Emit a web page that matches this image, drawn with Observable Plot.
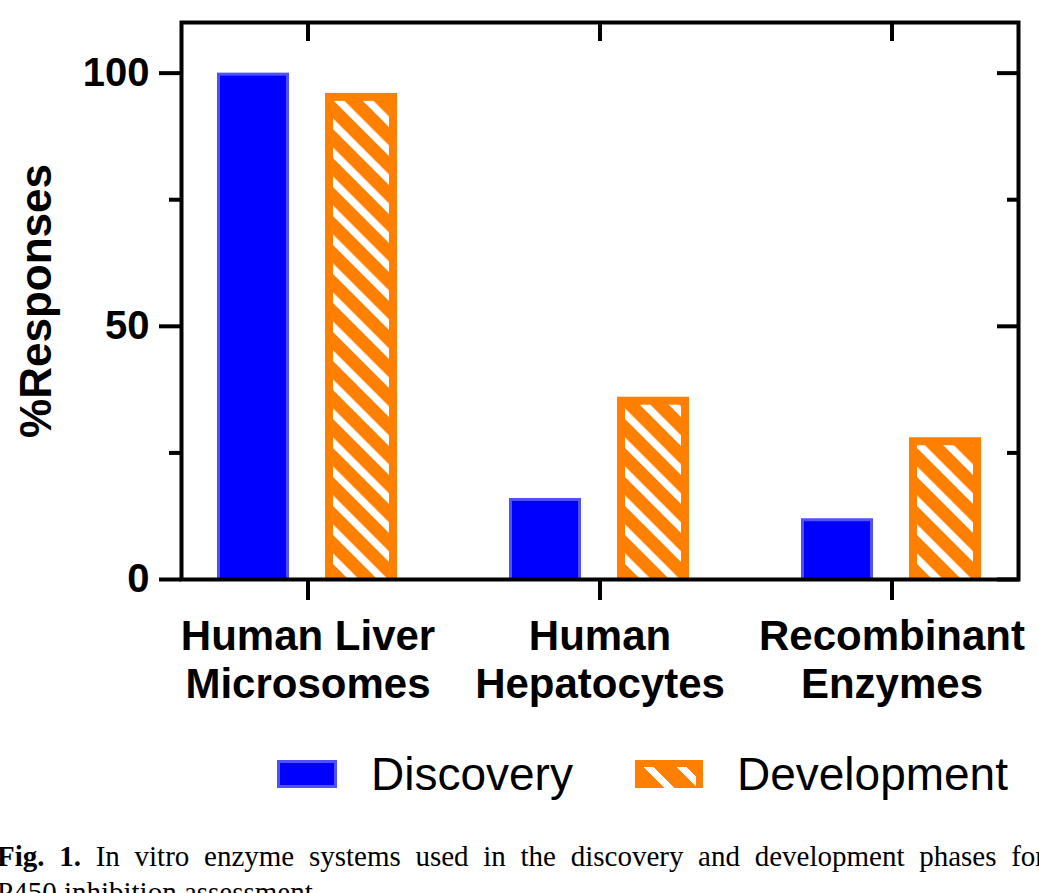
<!DOCTYPE html>
<html>
<head>
<meta charset="utf-8">
<script src="https://cdn.jsdelivr.net/npm/d3@7"></script>
<script src="https://cdn.jsdelivr.net/npm/@observablehq/plot@0.6"></script>
<style>
  html, body { margin: 0; padding: 0; background: #fff; overflow: hidden; }
  #chart svg { display: block; }
  .legend { display: flex; align-items: center; height: 48px; margin-top: 30px; padding-left: 277px;
            font-family: "Liberation Sans", Arial, sans-serif; font-size: 46px; color: #000; }
  .sw { width: 60px; height: 28px; box-sizing: border-box; }
  .sw.blue { background: #0000ff; border: 3px solid #5050ff; }
  .sw.orange { width: 68px; background: #ff8000; position: relative; }
  .sw.orange::after { content: ""; position: absolute; left: 7px; right: 7px; top: 7px; bottom: 0;
            background: repeating-linear-gradient(45deg, #ff8000 0 16px, #fff 16px 23px); }
  .legend .lab { margin-left: 34px; }
  .legend .gap { width: 62px; }
  .caption { position: relative; left: -3px; width: 1048px; margin-top: 40px;
             font-family: "Liberation Serif", "Times New Roman", serif; font-size: 29px; line-height: 36px; color: #000; }
  .caption .l1 { text-align: justify; text-align-last: justify; }
</style>
</head>
<body>
<div id="chart"></div>
<div class="legend">
  <div class="sw blue"></div><span class="lab">Discovery</span>
  <div class="gap"></div>
  <div class="sw orange"></div><span class="lab">Development</span>
</div>
<div class="caption">
  <div class="l1"><b>Fig. 1.</b> In vitro enzyme systems used in the discovery and development phases for</div>
  <div class="l2">P450 inhibition assessment.</div>
</div>
<script>
const categories = ["Human Liver\nMicrosomes", "Human\nHepatocytes", "Recombinant\nEnzymes"];
const seriesNames = ["Discovery", "Development"];
const discovery = [100, 16, 12];
const development = [96, 36, 28];
const majorTicks = [0, 50, 100];
const minorTicks = [25, 75];
const yLabel = "%Responses";

const discData = categories.map((c, i) => ({category: c, series: seriesNames[0], value: discovery[i]}));
const devData = categories.map((c, i) => ({category: c, series: seriesNames[1], value: development[i]}));

const enc = {fx: "category", x: "series", y: "value"};

const chart = Plot.plot({
  width: 1039,
  height: 720,
  marginLeft: 180,
  marginRight: 21,
  marginTop: 22,
  marginBottom: 141,
  style: {fontFamily: "'Liberation Sans', Arial, sans-serif", fontWeight: "bold", color: "#000", background: "#fff"},
  fx: {domain: categories, paddingInner: 0.135, paddingOuter: 0, label: null},
  x: {domain: seriesNames, padding: 0.33, axis: null},
  y: {domain: [0, 110], axis: null},
  marks: [
    // Discovery bars: light blue edge, solid blue body
    Plot.barY(discData, {...enc, fill: "#5050ff"}),
    Plot.barY(discData, {...enc, fill: "#0000ff", insetTop: 3, insetLeft: 3, insetRight: 3}),
    // Development bars: orange with white hatching
    Plot.barY(devData, {...enc, fill: "#ff8000"}),
    Plot.barY(devData, {...enc, fill: "url(#hatch)", insetTop: 8, insetLeft: 8, insetRight: 8}),
    // left axis (outward ticks)
    Plot.axisY({anchor: "left", ticks: majorTicks, tickSize: 22, tickPadding: 10, fontSize: 40, strokeWidth: 4, label: null}),
    Plot.axisY({anchor: "left", ticks: minorTicks, tickSize: 12, tickFormat: () => "", strokeWidth: 4, label: null}),
    Plot.axisY({anchor: "left", ticks: [], label: yLabel, labelAnchor: "center", labelArrow: "none", labelOffset: 162, fontSize: 44}),
    // right axis (inward ticks)
    Plot.axisY({anchor: "right", ticks: majorTicks, tickSize: -22, tickFormat: () => "", strokeWidth: 4, label: null}),
    Plot.axisY({anchor: "right", ticks: minorTicks, tickSize: -12, tickFormat: () => "", strokeWidth: 4, label: null}),
    // category axis bottom (outward) and top (inward)
    Plot.axisFx({anchor: "bottom", tickSize: 21, tickPadding: 15, fontSize: 42, lineHeight: 1.15, strokeWidth: 4, label: null}),
    Plot.axisFx({anchor: "top", tickSize: -18, tickFormat: () => "", strokeWidth: 4, label: null}),
    Plot.frame({facet: "super", stroke: "#000", strokeWidth: 4})
  ]
});

chart.insertAdjacentHTML("afterbegin",
  '<defs><pattern id="hatch" patternUnits="userSpaceOnUse" width="20.5" height="20.5" patternTransform="rotate(-45)">' +
  '<rect x="0" y="0" width="7.5" height="20.5" fill="#fff"></rect></pattern></defs>');
document.getElementById("chart").appendChild(chart);
</script>
</body>
</html>
